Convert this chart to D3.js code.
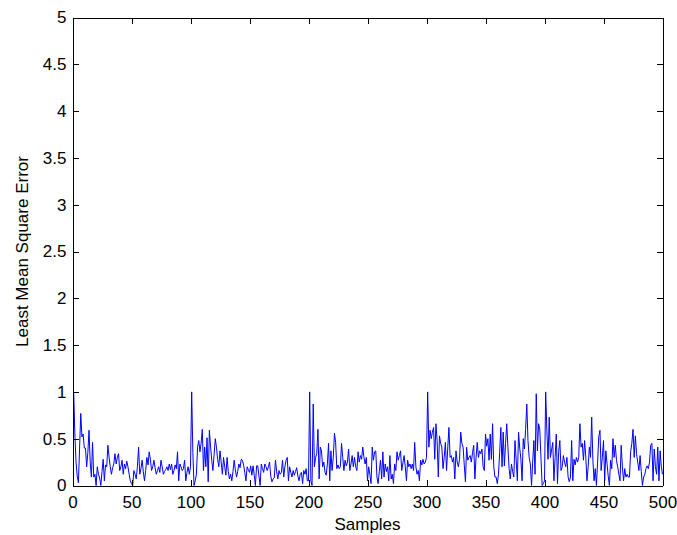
<!DOCTYPE html>
<html>
<head>
<meta charset="utf-8">
<script src="https://cdn.jsdelivr.net/npm/d3@7"></script>
<style>
  body { margin: 0; background: #fff; }
  .axis text { font-family: "Liberation Sans", Arial, sans-serif; font-size: 17px; fill: #000; }
  .axis path, .axis line { stroke: #000; shape-rendering: crispEdges; }
  .label { font-family: "Liberation Sans", Arial, sans-serif; font-size: 17px; fill: #000; }
</style>
</head>
<body>
<div id="wrapper"></div>
<script>
// Least mean square error per sample (100 samples per block)
const block1 = [1.0,0.55,0.25,0.1,0.03,0.4,0.77,0.52,0.55,0.4,0.4,0.2,0.35,0.59,0.25,0.09,0.46,0.09,0.12,0.0,
  0.2,0.12,0.08,0.0,0.15,0.28,0.05,0.22,0.2,0.43,0.3,0.2,0.12,0.19,0.23,0.34,0.23,0.3,0.34,0.16,
  0.2,0.27,0.12,0.23,0.18,0.26,0.2,0.12,0.05,0.02,0.0,0.16,0.12,0.07,0.2,0.41,0.12,0.18,0.27,0.15,
  0.05,0.16,0.3,0.22,0.36,0.28,0.16,0.2,0.27,0.19,0.12,0.16,0.2,0.14,0.27,0.2,0.12,0.15,0.17,0.2,
  0.16,0.23,0.17,0.23,0.12,0.16,0.22,0.18,0.36,0.05,0.23,0.2,0.16,0.18,0.27,0.05,0.14,0.2,0.12,0.2];
const block2 = [1.0,0.35,0.0,0.05,0.12,0.41,0.48,0.36,0.45,0.6,0.16,0.41,0.2,0.51,0.04,0.59,0.42,0.27,0.16,0.33,
  0.5,0.41,0.28,0.2,0.37,0.25,0.12,0.3,0.2,0.11,0.3,0.15,0.07,0.12,0.05,0.15,0.27,0.17,0.09,0.15,
  0.23,0.19,0.28,0.27,0.22,0.14,0.05,0.2,0.17,0.14,0.21,0.11,0.21,0.11,0.0,0.21,0.21,0.1,0.0,0.23,
  0.18,0.14,0.23,0.2,0.16,0.2,0.25,0.1,0.04,0.07,0.08,0.27,0.15,0.07,0.16,0.12,0.14,0.27,0.09,0.2,
  0.27,0.3,0.05,0.2,0.14,0.09,0.16,0.11,0.15,0.19,0.1,0.05,0.12,0.14,0.02,0.16,0.12,0.18,0.05,0.05];
const block3 = [1.0,0.05,0.0,0.87,0.2,0.3,0.34,0.6,0.07,0.41,0.37,0.2,0.25,0.14,0.11,0.23,0.45,0.05,0.37,0.16,
  0.3,0.56,0.46,0.18,0.22,0.18,0.2,0.45,0.3,0.16,0.27,0.21,0.25,0.39,0.16,0.23,0.32,0.2,0.3,0.2,
  0.16,0.36,0.25,0.32,0.28,0.41,0.3,0.23,0.3,0.05,0.2,0.12,0.02,0.41,0.27,0.36,0.37,0.09,0.02,0.15,
  0.27,0.07,0.36,0.09,0.23,0.15,0.2,0.05,0.32,0.07,0.12,0.02,0.23,0.16,0.36,0.27,0.32,0.37,0.16,0.24,
  0.32,0.2,0.05,0.27,0.2,0.23,0.18,0.23,0.16,0.46,0.2,0.12,0.16,0.05,0.27,0.22,0.28,0.23,0.25,0.3];
const block4 = [1.0,0.41,0.59,0.5,0.57,0.62,0.28,0.66,0.48,0.09,0.53,0.45,0.41,0.18,0.3,0.46,0.16,0.4,0.62,0.3,
  0.32,0.25,0.3,0.07,0.37,0.25,0.2,0.28,0.57,0.45,0.41,0.22,0.04,0.41,0.27,0.3,0.32,0.25,0.35,0.43,
  0.07,0.3,0.46,0.3,0.37,0.34,0.39,0.2,0.16,0.55,0.42,0.5,0.27,0.55,0.28,0.66,0.2,0.09,0.09,0.02,
  0.12,0.35,0.62,0.2,0.57,0.21,0.45,0.66,0.41,0.18,0.07,0.23,0.15,0.09,0.48,0.27,0.05,0.57,0.4,0.28,
  0.05,0.5,0.39,0.6,0.87,0.48,0.3,0.23,0.0,0.25,0.48,0.12,0.98,0.37,0.66,0.6,0.3,0.0,0.02,0.05];
const block5 = [1.0,0.59,0.28,0.73,0.3,0.38,0.46,0.05,0.3,0.55,0.02,0.36,0.48,0.16,0.2,0.32,0.25,0.2,0.3,0.09,
  0.04,0.09,0.48,0.05,0.28,0.22,0.3,0.25,0.3,0.66,0.41,0.45,0.27,0.48,0.3,0.05,0.2,0.41,0.3,0.73,
  0.27,0.05,0.18,0.0,0.25,0.52,0.59,0.16,0.3,0.48,0.05,0.37,0.23,0.1,0.0,0.27,0.18,0.5,0.3,0.43,
  0.27,0.2,0.12,0.05,0.43,0.2,0.05,0.18,0.09,0.12,0.09,0.09,0.36,0.45,0.6,0.3,0.53,0.34,0.25,0.16,
  0.32,0.15,0.0,0.09,0.12,0.18,0.21,0.18,0.25,0.43,0.45,0.05,0.39,0.2,0.12,0.41,0.05,0.37,0.2,0.12];

const xTicks = [0, 50, 100, 150, 200, 250, 300, 350, 400, 450, 500];
const yTicks = [0, 0.5, 1, 1.5, 2, 2.5, 3, 3.5, 4, 4.5, 5];
const xLabel = "Samples";
const yLabel = "Least Mean Square Error";

const lmsError = block1.concat(block2, block3, block4, block5);

const width = 677, height = 535;
const plotLeft = 72.5, plotRight = 662.5, plotTop = 17.5, plotBottom = 485.5;

const svg = d3.select("#wrapper").append("svg")
  .attr("width", width)
  .attr("height", height);

svg.append("rect").attr("width", width).attr("height", height).attr("fill", "#fff");

const x = d3.scaleLinear().domain([0, 500]).range([plotLeft, plotRight]);
const y = d3.scaleLinear().domain([0, 5]).range([plotBottom, plotTop]);

// data line (samples numbered 1..500)
const line = d3.line()
  .x((d, i) => x(i + 1))
  .y(d => y(d));

svg.append("path")
  .datum(lmsError)
  .attr("fill", "none")
  .attr("stroke", "#0000ff")
  .attr("stroke-width", 1)
  .attr("d", line);

// axes, ticks pointing inwards on all four sides (box on)
const fmt = d3.format("");
svg.append("g").attr("class", "axis")
  .attr("transform", "translate(0," + plotBottom + ")")
  .call(d3.axisBottom(x).tickValues(xTicks).tickFormat(fmt).tickSizeInner(-6).tickSizeOuter(0).tickPadding(10));
svg.append("g").attr("class", "axis")
  .attr("transform", "translate(0," + plotTop + ")")
  .call(d3.axisTop(x).tickValues(xTicks).tickFormat("").tickSizeInner(-6).tickSizeOuter(0));
svg.append("g").attr("class", "axis")
  .attr("transform", "translate(" + plotLeft + ",0)")
  .call(d3.axisLeft(y).tickValues(yTicks).tickFormat(fmt).tickSizeInner(-6).tickSizeOuter(0).tickPadding(6));
svg.append("g").attr("class", "axis")
  .attr("transform", "translate(" + plotRight + ",0)")
  .call(d3.axisRight(y).tickValues(yTicks).tickFormat("").tickSizeInner(-6).tickSizeOuter(0));

svg.selectAll(".axis").attr("font-size", null).attr("font-family", null);

// axis labels
svg.append("text").attr("class", "label")
  .attr("x", (plotLeft + plotRight) / 2)
  .attr("y", 530)
  .attr("text-anchor", "middle")
  .text(xLabel);

svg.append("text").attr("class", "label")
  .attr("transform", "translate(28," + ((plotTop + plotBottom) / 2) + ") rotate(-90)")
  .attr("text-anchor", "middle")
  .text(yLabel);
</script>
</body>
</html>
